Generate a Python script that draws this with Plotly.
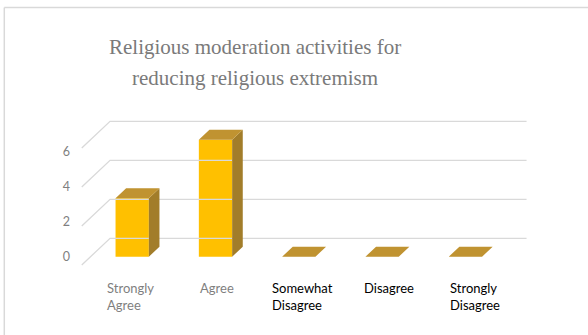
import plotly.graph_objects as go

# ---- data ----
categories = ["Strongly Agree", "Agree", "Somewhat Disagree", "Disagree", "Strongly Disagree"]
values = [3, 6, 0, 0, 0]
y_ticks = [0, 2, 4, 6]
title_lines = ["Religious moderation activities for", "reducing religious extremism"]

# ---- styling ----
label_colors = ["#7f7f7f", "#7f7f7f", "#000000", "#000000", "#000000"]
FRONT = "#FFC000"
TOP = "#C09331"
SIDE = "#A27D2A"
GRID = "#d9d9d9"

W, H = 588, 335

# pixel scale of the bar plane (category units / value units)
X_PX, X0_PX = 83.3, 132.2
Y_PX, Y0_PX = 19.5, 256.7
x_range = [-X0_PX / X_PX, (W - X0_PX) / X_PX]
y_range = [(Y0_PX - H) / Y_PX, Y0_PX / Y_PX]

# scale used for the value labels along the left wall
YL_PX = 17.5
yl_range = [(Y0_PX - H) / YL_PX, Y0_PX / YL_PX]
# scale used for the category labels along the front edge
XL_PX, XL0_PX = 85.9, 130.9
xl_range = [-XL0_PX / XL_PX, (W - XL0_PX) / XL_PX]

BAR_HALF = 0.2
BAR_DEPTH = 10.0     # depth of each bar (px)
WALL_DEPTH = 18.4    # bar plane -> back wall (px)
FLOOR_FRONT = -8.3   # bar plane -> front of floor (px)
SKEW = 1.06          # horizontal shift per pixel of depth


def depth(d):
    """Oblique offset (in data units) for a depth given in pixels."""
    return d * SKEW / X_PX, d / Y_PX


n = len(categories)
idx = list(range(n))
wall_l, wall_r = -0.5, n - 0.5

fig = go.Figure()

# back-wall gridlines and the diagonal lines on the left wall
wdx, wdv = depth(WALL_DEPTH)
fdx, fdv = depth(FLOOR_FRONT)
gx, gy = [], []
for t in y_ticks:
    gx += [wall_r + wdx, wall_l + wdx, wall_l + fdx, None]
    gy += [t + wdv, t + wdv, t + fdv, None]
fig.add_trace(go.Scatter(x=gx, y=gy, mode="lines",
                         line=dict(color=GRID, width=1.3),
                         hoverinfo="skip", showlegend=False))

# front faces
fig.add_trace(go.Bar(x=idx, y=values, width=2 * BAR_HALF,
                     marker=dict(color=FRONT, line=dict(width=0)),
                     showlegend=False))

# side and top faces
bdx, bdv = depth(BAR_DEPTH)
sx, sy, tx, ty = [], [], [], []
for i, v in zip(idx, values):
    r, l = i + BAR_HALF, i - BAR_HALF
    if v > 0:
        sx += [r, r, r + bdx, r + bdx, r, None]
        sy += [0, v, v + bdv, bdv, 0, None]
    tx += [l, r, r + bdx, l + bdx, l, None]
    ty += [v, v, v + bdv, v + bdv, v, None]
fig.add_trace(go.Scatter(x=sx, y=sy, mode="lines", fill="toself",
                         fillcolor=SIDE, line=dict(width=0),
                         hoverinfo="skip", showlegend=False))
fig.add_trace(go.Scatter(x=tx, y=ty, mode="lines", fill="toself",
                         fillcolor=TOP, line=dict(width=0),
                         hoverinfo="skip", showlegend=False))

# invisible trace binding the label axes so their ticks get drawn
fig.add_trace(go.Scatter(x=[0] * len(y_ticks), y=y_ticks, xaxis="x2", yaxis="y2",
                         mode="markers", marker=dict(size=0, opacity=0),
                         hoverinfo="skip", showlegend=False))

# category labels (wrapped, left aligned)
for i, (cat, col) in enumerate(zip(categories, label_colors)):
    fig.add_annotation(x=i, y=1 - 278 / H, xref="x2", yref="paper",
                       text=cat.replace(" ", "<br>"), showarrow=False,
                       xanchor="center", yanchor="top", align="left",
                       font=dict(family="Lato", size=13, color=col))

# title
for line, yc in zip(title_lines, [46.7, 78.3]):
    fig.add_annotation(x=254.5 / W, y=1 - yc / H, xref="paper", yref="paper",
                       text=line, showarrow=False,
                       xanchor="center", yanchor="middle",
                       font=dict(family="Liberation Serif", size=21, color="#7a7a7a"))

# chart-area border (left and top edges)
fig.add_shape(type="line", xref="paper", yref="paper",
              x0=4.3 / W, x1=4.3 / W, y0=0, y1=1 - 7.5 / H,
              line=dict(color=GRID, width=1.5))
fig.add_shape(type="line", xref="paper", yref="paper",
              x0=4.3 / W, x1=1, y0=1 - 7.5 / H, y1=1 - 7.5 / H,
              line=dict(color=GRID, width=1.5))

fig.update_layout(
    width=W, height=H,
    margin=dict(l=0, r=0, t=0, b=0),
    paper_bgcolor="white", plot_bgcolor="white",
    xaxis=dict(range=x_range, visible=False, fixedrange=True),
    yaxis=dict(range=y_range, visible=False, fixedrange=True),
    xaxis2=dict(range=xl_range, overlaying="x", visible=False, fixedrange=True),
    yaxis2=dict(range=yl_range, overlaying="y", anchor="free",
                position=70 / W, side="left", fixedrange=True,
                tickvals=y_ticks, ticks="", showgrid=False,
                zeroline=False, showline=False,
                tickfont=dict(family="Lato", size=12.5, color="#7f7f7f")),
)

fig.write_html("out.html")
